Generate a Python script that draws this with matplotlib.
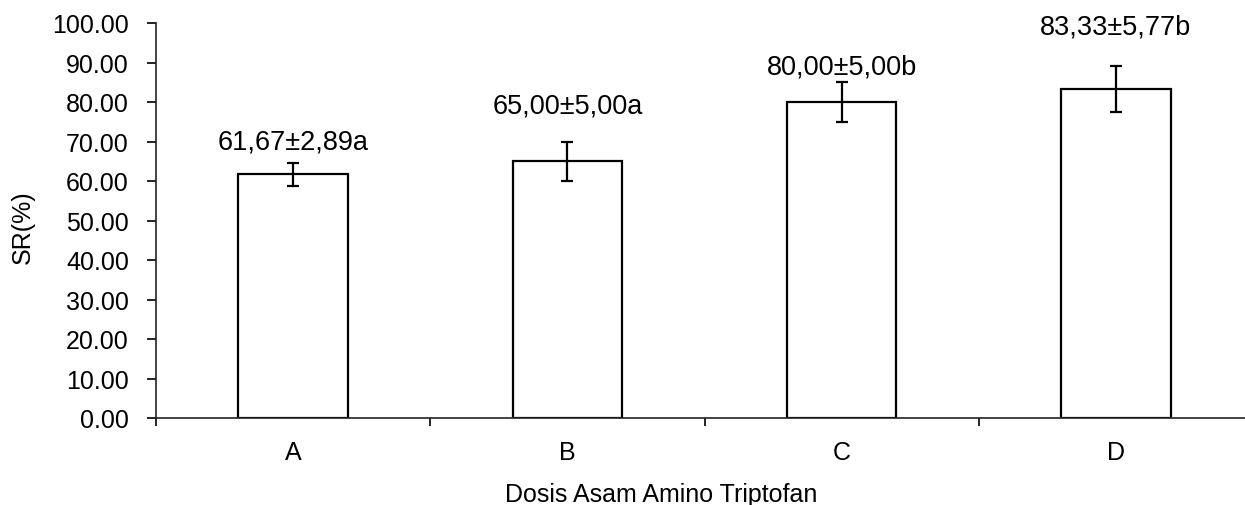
import matplotlib.pyplot as plt
import numpy as np

plt.rcParams.update({
    'font.family': ['Liberation Sans', 'DejaVu Sans'],
    'font.size': 18,
    'axes.linewidth': 1.2,
})

groups = ['A', 'B', 'C', 'D']
sr_mean = [61.67, 65.00, 80.00, 83.33]
sr_sd = [2.89, 5.00, 5.00, 5.77]
letters = ['a', 'a', 'b', 'b']
label_y = [70.0, 79.0, 88.9, 99.0]

fig = plt.figure(figsize=(12.45, 5.06), dpi=100)
ax = fig.add_axes([156 / 1245, 87 / 506, (1253 - 156) / 1245, (419 - 24) / 506])

x = np.arange(len(groups))
ax.bar(x, sr_mean, width=0.4, color='white', edgecolor='black', linewidth=1.6,
       yerr=sr_sd, error_kw=dict(ecolor='black', elinewidth=1.6, capsize=4.5, capthick=1.6),
       zorder=2)

# mean±sd plus significance letter, comma decimals as in the source
for xi, m, s, l, ly in zip(x, sr_mean, sr_sd, letters, label_y):
    txt = f'{m:.2f}±{s:.2f}{l}'.replace('.', ',')
    ax.text(xi, ly, txt, ha='center', va='center', fontsize=19.5)

ax.set_xlim(-0.5, len(groups) - 0.5)
ax.set_ylim(0, 100)
ax.set_yticks(np.arange(0, 101, 10))
ax.set_yticklabels([f'{v:.2f}' for v in np.arange(0, 101, 10)], fontsize=18)
ax.tick_params(axis='y', direction='out', length=6.5, width=1.2, pad=13)

ax.set_xticks(np.arange(-0.5, len(groups) - 0.5, 1.0))
ax.set_xticklabels([])
ax.tick_params(axis='x', which='major', direction='out', length=6, width=1.2)
ax.set_xticks(x, minor=True)
ax.set_xticklabels(groups, minor=True, fontsize=18)
ax.tick_params(axis='x', which='minor', length=0, pad=16)

for side in ['top', 'right']:
    ax.spines[side].set_visible(False)
for side in ['left', 'bottom']:
    ax.spines[side].set_color('#222222')

fig.text(23 / 1245, 1 - 227 / 506, 'SR(%)', rotation=90, ha='center', va='center', fontsize=18)
fig.text(661 / 1245, 1 - 495 / 506, 'Dosis Asam Amino Triptofan', ha='center', va='center', fontsize=18)

fig.savefig('out.png', dpi=100)
